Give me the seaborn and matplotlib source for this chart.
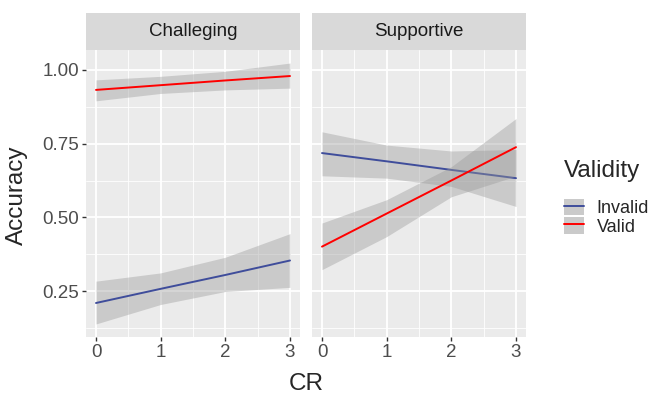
import numpy as np
import pandas as pd
import matplotlib
matplotlib.use("Agg")
import matplotlib.pyplot as plt
from matplotlib.patches import Rectangle, Patch
from matplotlib.lines import Line2D
from matplotlib.legend_handler import HandlerTuple
import seaborn as sns

# values (fit + ribbon at CR = 0..3)
cr = [0, 1, 2, 3]
panels = ["Challeging", "Supportive"]
groups = ["Invalid", "Valid"]

chal_invalid_fit = [0.210, 0.258, 0.305, 0.354]
chal_invalid_lo = [0.139, 0.205, 0.249, 0.263]
chal_invalid_hi = [0.284, 0.312, 0.365, 0.445]

chal_valid_fit = [0.932, 0.948, 0.964, 0.979]
chal_valid_lo = [0.895, 0.920, 0.932, 0.938]
chal_valid_hi = [0.966, 0.978, 0.995, 1.023]

supp_invalid_fit = [0.718, 0.690, 0.661, 0.633]
supp_invalid_lo = [0.641, 0.633, 0.605, 0.537]
supp_invalid_hi = [0.790, 0.745, 0.725, 0.730]

supp_valid_fit = [0.401, 0.513, 0.625, 0.738]
supp_valid_lo = [0.323, 0.435, 0.570, 0.640]
supp_valid_hi = [0.481, 0.560, 0.672, 0.835]

series = {
    ("Challeging", "Invalid"): (chal_invalid_fit, chal_invalid_lo, chal_invalid_hi),
    ("Challeging", "Valid"): (chal_valid_fit, chal_valid_lo, chal_valid_hi),
    ("Supportive", "Invalid"): (supp_invalid_fit, supp_invalid_lo, supp_invalid_hi),
    ("Supportive", "Valid"): (supp_valid_fit, supp_valid_lo, supp_valid_hi),
}
rows = []
for (p, g), (f, lo, hi) in series.items():
    for x, a, b, c in zip(cr, f, lo, hi):
        rows.append({"Cond": p, "Validity": g, "CR": x, "Accuracy": a, "lo": b, "hi": c})
df = pd.DataFrame(rows)

colors = {"Invalid": "#3F4D9B", "Valid": "#FF0000"}

sns.set_theme(style="darkgrid", rc={
    "axes.facecolor": "#EBEBEB",
    "grid.color": "white",
    "axes.edgecolor": "#EBEBEB",
    "axes.linewidth": 0,
})
plt.rcParams["font.family"] = ["Liberation Sans", "DejaVu Sans"]

fig = plt.figure(figsize=(6.5, 4), dpi=100)
W, H = 650, 400
ax_w, ax_h = 213.4, 287
axes = [fig.add_axes([86.3 / W, 63 / H, ax_w / W, ax_h / H]),
        fig.add_axes([312.3 / W, 63 / H, ax_w / W, ax_h / H])]

ymin, ymax = df["lo"].min(), df["hi"].max()
pad = (ymax - ymin) * 0.05

for ax, p in zip(axes, panels):
    sub = df[df["Cond"] == p]
    z = 2
    for g in groups:
        d = sub[sub["Validity"] == g]
        ax.fill_between(d["CR"], d["lo"], d["hi"], color="#999999", alpha=0.4,
                        linewidth=0, zorder=z)
        sns.lineplot(data=d, x="CR", y="Accuracy", color=colors[g], lw=1.4,
                     ax=ax, zorder=z + 1)
        z += 2
    ax.set_xlim(-0.15, 3.15)
    ax.set_ylim(ymin - pad, ymax + pad)
    ax.set_xticks([0, 1, 2, 3])
    ax.set_yticks([0.25, 0.5, 0.75, 1.0])
    ax.set_xticks([0.5, 1.5, 2.5], minor=True)
    ax.set_yticks([0.125, 0.375, 0.625, 0.875], minor=True)
    ax.grid(which="major", color="white", lw=1.3)
    ax.grid(which="minor", color="white", lw=0.6)
    ax.set_axisbelow(True)
    ax.set_xlabel("")
    ax.set_ylabel("")
    ax.tick_params(axis="x", which="major", bottom=True, length=3, width=1,
                   color="#333333", labelsize=13.5, labelcolor="#4D4D4D", pad=2)
    ax.tick_params(which="minor", length=0)
    ax.add_patch(Rectangle((0, 1), 1, 37 / ax_h, transform=ax.transAxes,
                           clip_on=False, facecolor="#D9D9D9", edgecolor="none"))
    ax.text(0.5, 1 + 18.5 / ax_h, p, transform=ax.transAxes, ha="center",
            va="center", fontsize=13.5, color="#1A1A1A")

axes[0].set_yticklabels(["0.25", "0.50", "0.75", "1.00"])
axes[0].tick_params(axis="y", which="major", left=True, length=3, width=1,
                    color="#333333", labelsize=13.5, labelcolor="#4D4D4D", pad=2)
axes[1].tick_params(axis="y", which="both", left=False, labelleft=False)

fig.text(306 / W, 1 - 384 / H, "CR", ha="center", va="center", fontsize=17.5)
fig.text(17 / W, 1 - 195 / H, "Accuracy", ha="center", va="center",
         rotation=90, fontsize=17.5)

handles = [(Patch(facecolor="#CACACA", edgecolor="none"),
            Line2D([], [], color=colors[g], lw=1.4)) for g in groups]
leg = fig.legend(handles, groups, title="Validity", loc="upper left",
                 bbox_to_anchor=(564 / W, 1 - 160 / H), frameon=False,
                 handler_map={tuple: HandlerTuple(ndivide=1, pad=0)},
                 fontsize=13, title_fontsize=17.5, handlelength=1.1,
                 handleheight=1.05, labelspacing=0.0, handletextpad=0.7,
                 borderaxespad=0, borderpad=0, alignment="left")
leg._legend_box.sep = 12

fig.savefig("out.png", dpi=100)
